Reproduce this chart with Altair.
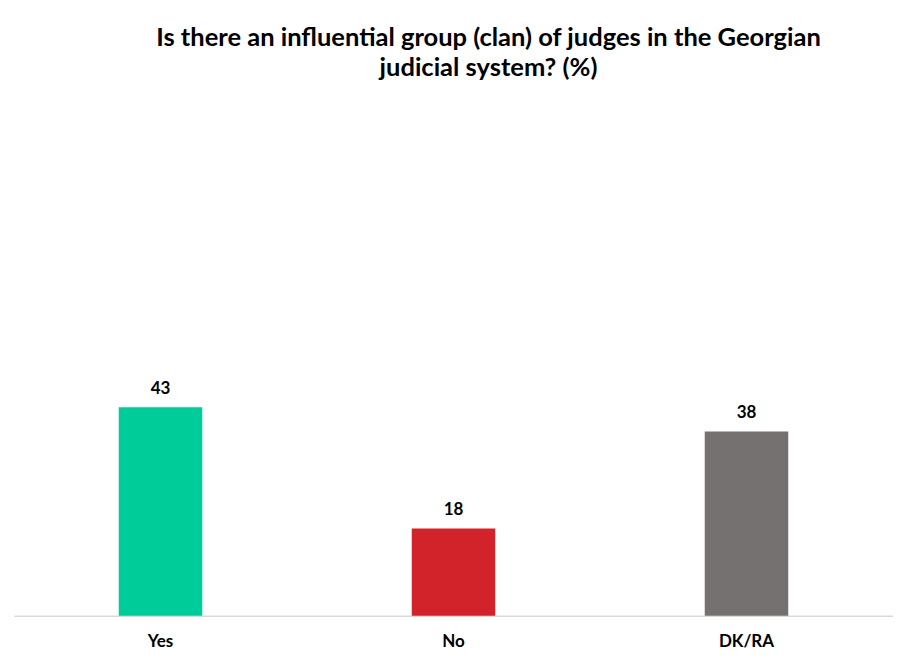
import altair as alt
import pandas as pd

categories = ["Yes", "No", "DK/RA"]
values = [43, 18, 38]
colors = ["#00CC99", "#D2232A", "#767171"]

df = pd.DataFrame({"cat": categories, "val": values})

FONT = "Lato"

base = alt.Chart(df).encode(
    x=alt.X("cat:N", sort=categories, title=None,
            scale=alt.Scale(paddingInner=0, paddingOuter=0),
            axis=alt.Axis(labelAngle=0, ticks=False, domainColor="#D9D9D9",
                          domainWidth=1.5, labelFont=FONT, labelFontSize=17,
                          labelFontWeight="bold", labelColor="#000000",
                          labelPadding=18, grid=False)),
    y=alt.Y("val:Q", scale=alt.Scale(domain=[0, 100]), axis=None),
)

bars = base.mark_bar(size=83.5).encode(
    color=alt.Color("cat:N", scale=alt.Scale(domain=categories, range=colors), legend=None)
)

labels = base.mark_text(baseline="bottom", dy=-9, font=FONT, fontSize=17,
                        fontWeight="bold", color="#000000").encode(text="val:Q")

chart = (bars + labels).properties(
    width=879,
    height=485,
    autosize=alt.AutoSizeParams(type="none"),
    padding={"left": 6, "top": 122.7, "right": 0, "bottom": 42},
    title=alt.TitleParams(
        text=["Is there an influential group (clan) of judges in the Georgian",
              "judicial system? (%)"],
        font=FONT, fontSize=25.5, fontWeight="bold", color="#000000",
        anchor="middle", dx=35, offset=49, lineHeight=30,
    ),
).configure_view(stroke=None)

chart.save("out.html", embed_options={"renderer": "svg", "actions": False})
